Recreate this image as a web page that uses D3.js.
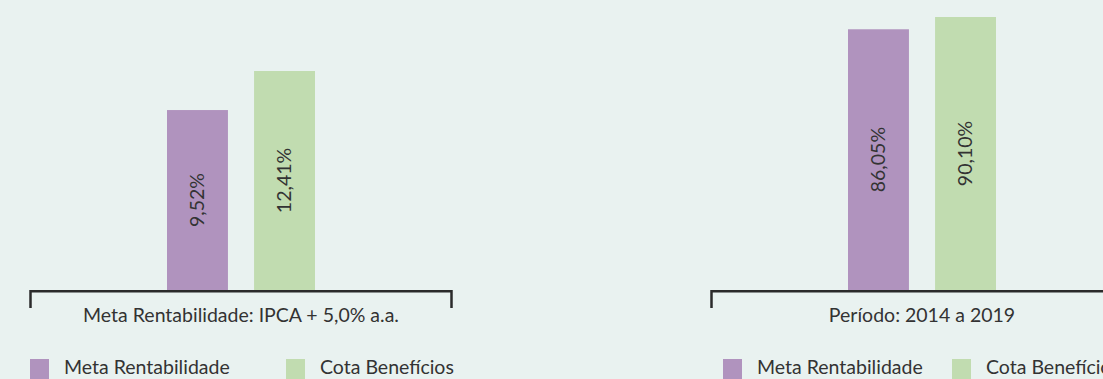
<!DOCTYPE html>
<html>
<head>
<meta charset="utf-8">
<script src="https://cdn.jsdelivr.net/npm/d3@7"></script>
<style>
  body { margin: 0; background: #e9f2f0; }
  svg { display: block; }
  text { font-family: Lato, "Open Sans", sans-serif; fill: #333; font-size: 19.5px; }
</style>
</head>
<body>
<script>
// data
var series = ["Meta Rentabilidade", "Cota Benefícios"];
var panelLabels = ["Meta Rentabilidade: IPCA + 5,0% a.a.", "Período: 2014 a 2019"];
var metaValues = [9.52, 86.05];
var cotaValues = [12.41, 90.10];

var colors = ["#b093be", "#c1dcb0"];
var width = 1103, height = 379;
var baseY = 290;

// each panel has its own vertical scale (as in the original)
var panels = [
  { x: 0,   domain: [-3.8, 12.41], top: 71, legend: [30, 286] },
  { x: 681, domain: [0, 90.10],   top: 17, legend: [42, 271] }
];

var locale = d3.formatLocale({ decimal: ",", thousands: ".", grouping: [3], currency: ["R$", ""] });
var fmt = locale.format(".2f");

var svg = d3.select("body").append("svg")
  .attr("width", width)
  .attr("height", height);

var x = d3.scaleBand().domain(series).range([167, 315]).paddingInner(0.3).paddingOuter(0);

panels.forEach(function(p, i) {
  var vals = [metaValues[i], cotaValues[i]];
  var y = d3.scaleLinear().domain(p.domain).range([baseY, p.top]);

  var g = svg.append("g").attr("transform", "translate(" + p.x + ",0)");

  g.selectAll("rect.bar")
    .data(vals)
    .enter().append("rect")
    .attr("class", "bar")
    .attr("x", function(d, j) { return x(series[j]); })
    .attr("y", function(d) { return y(d); })
    .attr("width", x.bandwidth())
    .attr("height", function(d) { return baseY - y(d); })
    .attr("fill", function(d, j) { return colors[j]; });

  g.selectAll("text.val")
    .data(vals)
    .enter().append("text")
    .attr("class", "val")
    .attr("transform", function(d, j) {
      var cx = x(series[j]) + x.bandwidth() / 2;
      var cy = (y(d) + baseY) / 2;
      return "translate(" + cx + "," + cy + ") rotate(-90)";
    })
    .attr("text-anchor", "middle")
    .attr("dy", "0.35em")
    .text(function(d) { return fmt(d) + "%"; });

  // bracket axis
  g.append("path")
    .attr("d", "M30.5,308V291.2H451.5V308")
    .attr("fill", "none")
    .attr("stroke", "#2b2b2b")
    .attr("stroke-width", 2.5);

  g.append("text")
    .attr("x", 241)
    .attr("y", 322)
    .attr("text-anchor", "middle")
    .text(panelLabels[i]);

  // legend
  var lg = g.selectAll("g.legend")
    .data(series)
    .enter().append("g")
    .attr("class", "legend")
    .attr("transform", function(d, j) { return "translate(" + p.legend[j] + ",359)"; });
  lg.append("rect")
    .attr("width", 19)
    .attr("height", 21)
    .attr("fill", function(d, j) { return colors[j]; });
  lg.append("text")
    .attr("x", 34)
    .attr("y", 15)
    .text(function(d) { return d; });
});
</script>
</body>
</html>
